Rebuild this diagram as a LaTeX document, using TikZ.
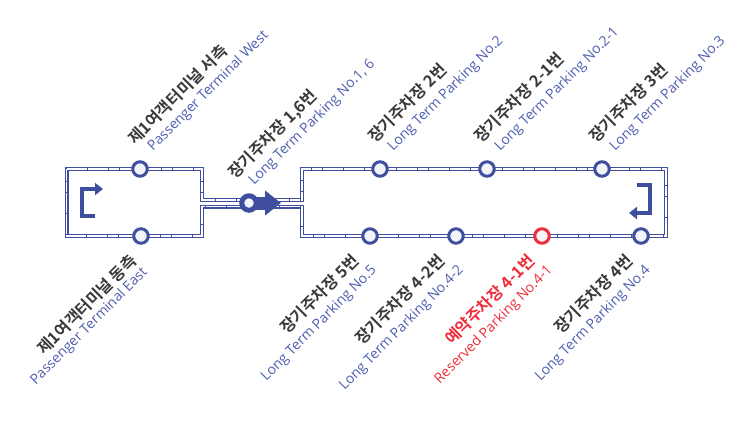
\documentclass[tikz,border=0pt]{standalone}
\usepackage{fontspec}
\setmainfont{Open Sans}
\newfontfamily\krfont{Noto Sans CJK KR}[BoldFont={Noto Sans CJK KR Bold}]
\newfontfamily\enfont{Open Sans}
\usetikzlibrary{
  arrows.meta,
  backgrounds
}
\tikzset{
  >={Triangle[length=8pt,width=12pt]},
  track line/.style={line width=4pt,draw=routeblue,line join=miter},
  track dash/.style={line width=1.7pt,draw=white,dash pattern=on 10pt off .6pt},
  turn flow/.style={->,line width=4.2pt,draw=routeblue},
  station/.style={circle,line width=3pt,minimum size=14.5pt,inner sep=0pt,
    draw=routeblue,fill=stopfill},
  hub/.style={circle,line width=5pt,minimum size=14.5pt,inner sep=0pt,
    draw=routeblue,fill=stopfill},
  name up/.style={rotate=45,anchor=base west,inner sep=0pt,
    font=\krfont\bfseries\fontsize{16.2}{18}\selectfont,text=namegray},
  name down/.style={rotate=45,anchor=base east,inner sep=0pt,
    font=\krfont\bfseries\fontsize{16.2}{18}\selectfont,text=namegray},
  eng up/.style={rotate=45,anchor=base west,inner sep=0pt,
    font=\enfont\fontsize{14}{16}\selectfont,text=engblue},
  eng down/.style={rotate=45,anchor=base east,inner sep=0pt,
    font=\enfont\fontsize{14}{16}\selectfont,text=engblue}
}
\definecolor{routeblue}{HTML}{3F4F9E}
\definecolor{engblue}{HTML}{4F5FB0}
\definecolor{stopfill}{HTML}{F3F4FA}
\definecolor{namegray}{HTML}{3A3A3A}
\definecolor{alertred}{HTML}{EE2E3C}

\begin{document}
\begin{tikzpicture}[x=1pt,y=-1pt]
  \useasboundingbox (0,0) rectangle (746,423);

  \node[station] (westT) at (140,169) {};
  \node[station] (eastT) at (141,236) {};
  \node[hub] (lot16) at (249,203) {};
  \node[station] (lot2) at (380,169) {};
  \node[station] (lot21) at (487,169) {};
  \node[station] (lot3) at (602,169) {};
  \node[station] (lot5) at (370,236) {};
  \node[station] (lot42) at (456,236) {};
  \node[station,draw=alertred] (lot41) at (542,236) {};
  \node[station] (lot4) at (641,236) {};

  % track corners
  \coordinate (cornerA) at (66.5,169);
  \coordinate (cornerB) at (202,169);
  \coordinate (cornerC) at (202,200);
  \coordinate (cornerD) at (302,200);
  \coordinate (cornerE) at (302,169);
  \coordinate (cornerF) at (666,169);
  \coordinate (cornerG) at (666,236);
  \coordinate (cornerH) at (302,236);
  \coordinate (cornerI) at (302,206.5);
  \coordinate (cornerJ) at (202,206.5);
  \coordinate (cornerK) at (202,236);
  \coordinate (cornerL) at (66.5,236);
  \coordinate (hubTip) at (281,203);

  \begin{scope}[on background layer]
    \draw[track line] (cornerA) -- (cornerB) -- (cornerC) -- (cornerD) -- (cornerE) -- (cornerF)
      -- (cornerG) -- (cornerH) -- (cornerI) -- (cornerJ) -- (cornerK) -- (cornerL) -- cycle;
    \draw[track dash] (cornerA) -- (cornerB) -- (cornerC) -- (cornerD) -- (cornerE) -- (cornerF)
      -- (cornerG) -- (cornerH) -- (cornerI) -- (cornerJ) -- (cornerK) -- (cornerL) -- cycle;
    \draw[-{Triangle[length=16pt,width=24pt]},line width=13pt,draw=routeblue] (lot16.center) -- (hubTip);
  \end{scope}

  % direction marks
  \coordinate (leftA) at (95,216);
  \coordinate (leftB) at (82,216);
  \coordinate (leftC) at (82,189);
  \coordinate (leftD) at (103,189);
  \draw[turn flow] (leftA) -- (leftB) -- (leftC) -- (leftD);
  \coordinate (rightA) at (637,185);
  \coordinate (rightB) at (650,185);
  \coordinate (rightC) at (650,213);
  \coordinate (rightD) at (629,213);
  \draw[turn flow] (rightA) -- (rightB) -- (rightC) -- (rightD);

  % upper labels
  \node[name up] (westKr) at (135,146) {제1여객터미널 서측};
  \node[eng up] (westEn) at (153,152) {Passenger Terminal West};
  \node[name up] (lot16Kr) at (235,180) {장기주차장 1,6번};
  \node[eng up] (lot16En) at (254,186) {Long Term Parking No.1, 6};
  \node[name up] (lot2Kr) at (375,144) {장기주차장 2번};
  \node[eng up] (lot2En) at (393,152) {Long Term Parking No.2};
  \node[name up] (lot21Kr) at (481,144) {장기주차장 2-1번};
  \node[eng up] (lot21En) at (500,152) {Long Term Parking No.2-1};
  \node[name up] (lot3Kr) at (596,144) {장기주차장 3번};
  \node[eng up] (lot3En) at (615,152) {Long Term Parking No.3};

  % lower labels
  \node[name down] (eastKr) at (138,262) {제1여객터미널 동측};
  \node[eng down] (eastEn) at (148,273) {Passenger Terminal East};
  \node[name down] (lot5Kr) at (360,262) {장기주차장 5번};
  \node[eng down] (lot5En) at (377,271) {Long Term Parking No.5};
  \node[name down] (lot42Kr) at (446,262) {장기주차장 4-2번};
  \node[eng down] (lot42En) at (464,271) {Long Term Parking No.4-2};
  \node[name down,text=alertred] (lot41Kr) at (536,262) {예약주차장 4-1번};
  \node[eng down,text=alertred] (lot41En) at (553,271) {Reserved Parking No.4-1};
  \node[name down] (lot4Kr) at (634,262) {장기주차장 4번};
  \node[eng down] (lot4En) at (651,271) {Long Term Parking No.4};
\end{tikzpicture}
\end{document}
